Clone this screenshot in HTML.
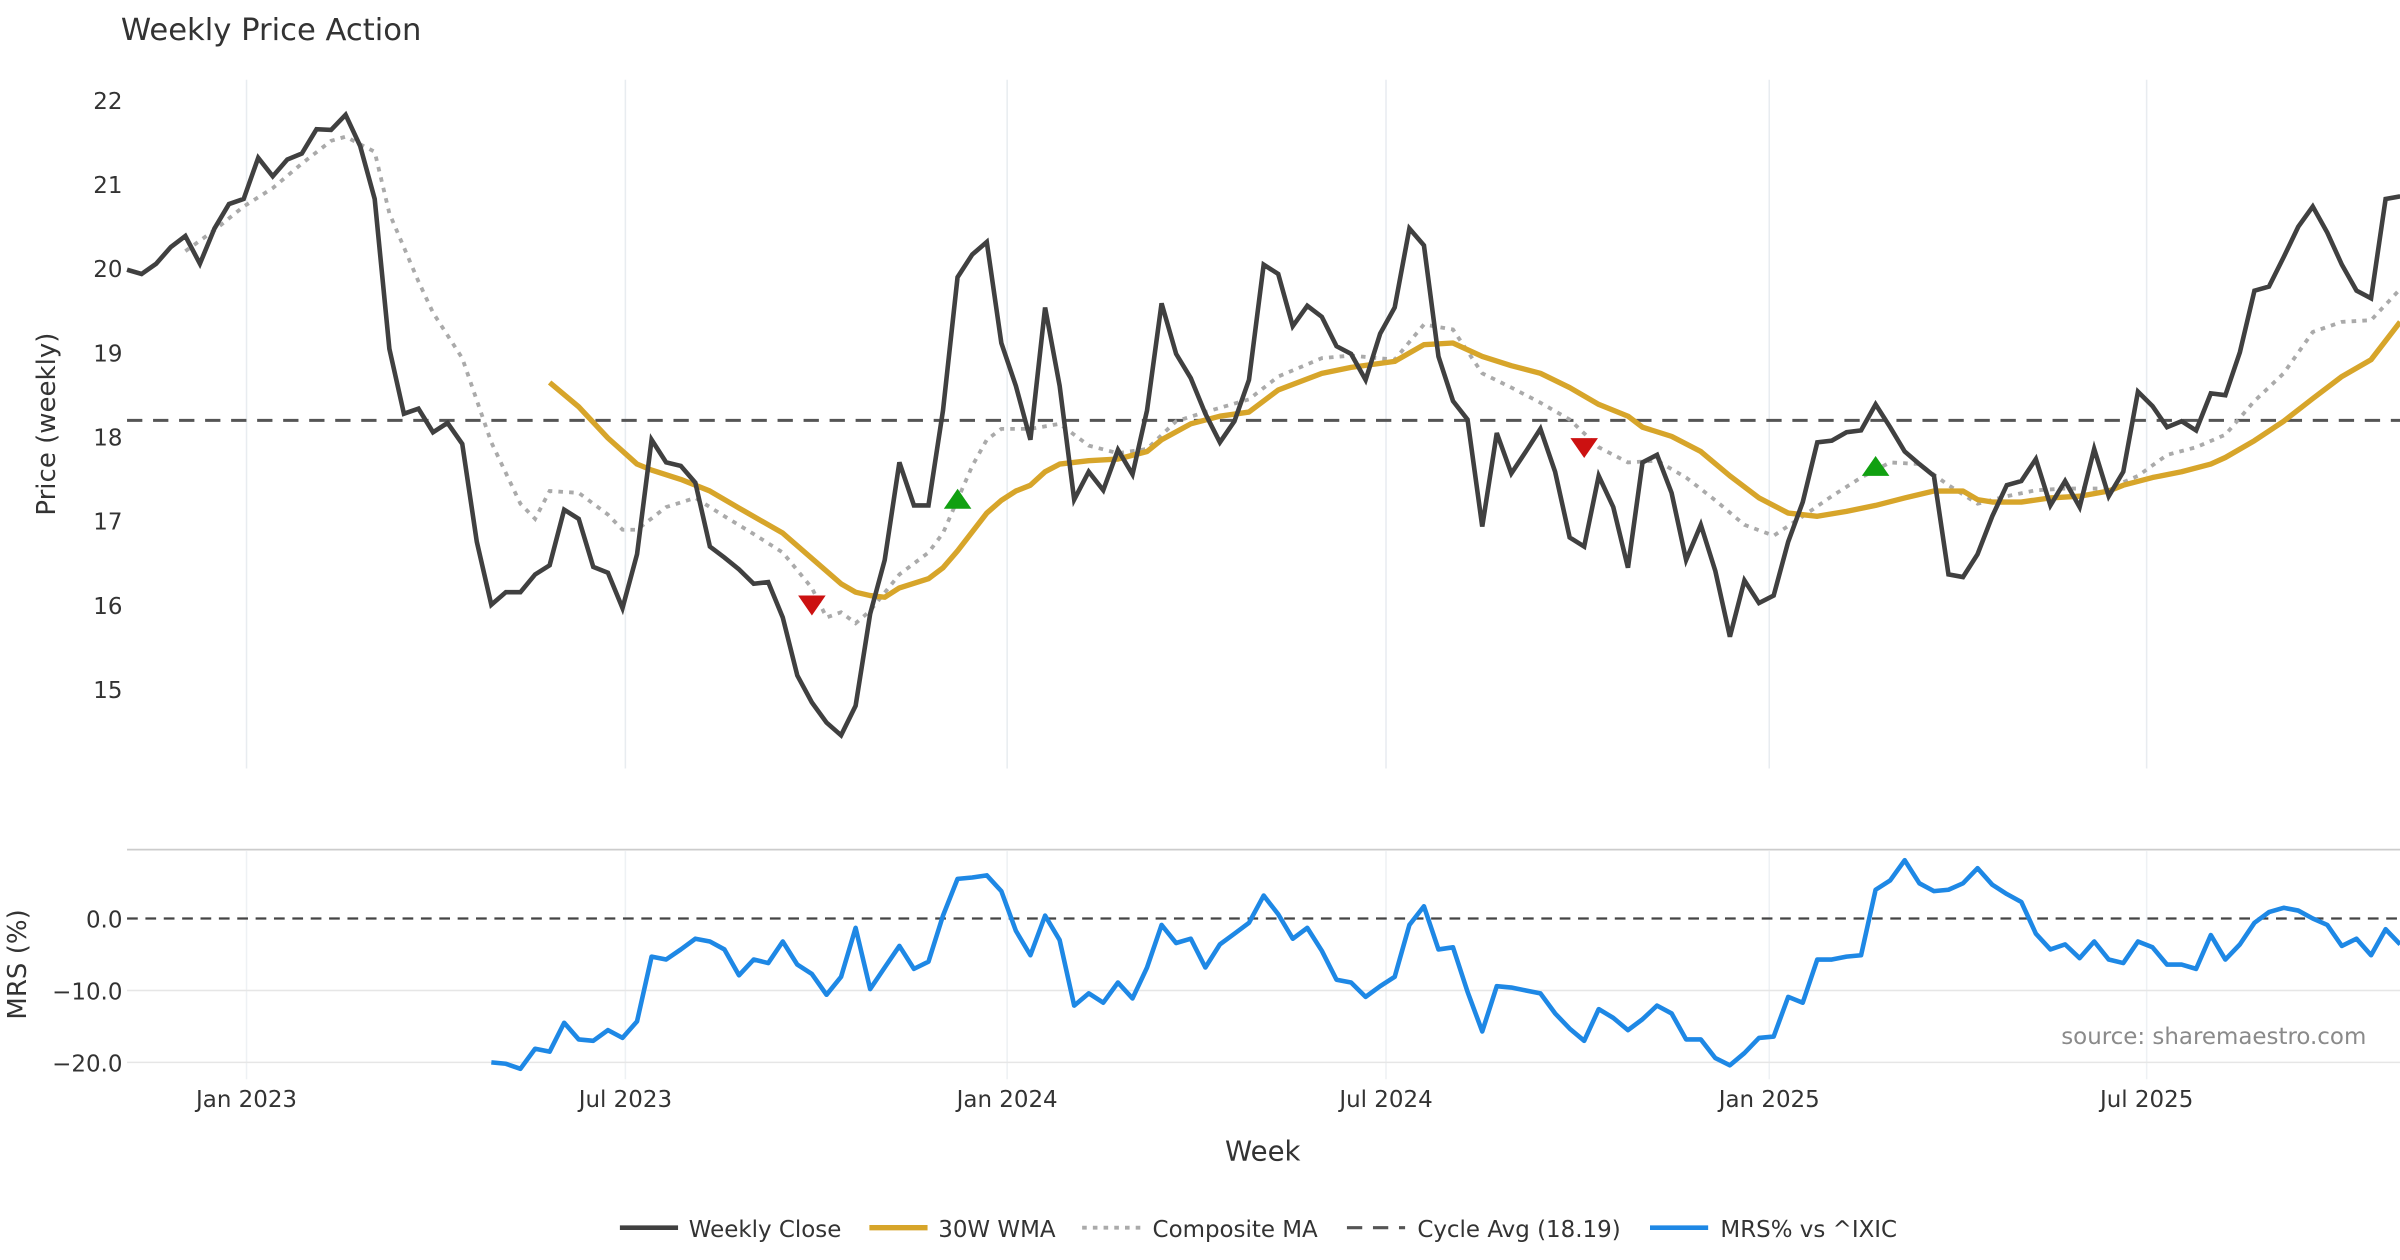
<!DOCTYPE html>
<html><head><meta charset="utf-8"><style>
html,body{margin:0;padding:0;background:#fff;}
svg{display:block;font-family:"DejaVu Sans","Liberation Sans",sans-serif;}
</style></head><body>
<svg id="chart" width="2400" height="1260" viewBox="0 0 1568 823" xmlns="http://www.w3.org/2000/svg">
<text x="79" y="26" font-size="20" fill="#333">Weekly Price Action</text>
<g id="grid"></g><g id="series"></g><g id="axes"></g>
<text transform="translate(36,277) rotate(-90)" text-anchor="middle" font-size="17" fill="#333">Price (weekly)</text>
<text transform="translate(17,630) rotate(-90)" text-anchor="middle" font-size="17" fill="#333">MRS (%)</text>
<text x="825" y="758" text-anchor="middle" font-size="18" fill="#333">Week</text>
<text x="1546" y="682" text-anchor="end" font-size="15" fill="#8a8a8a">source: sharemaestro.com</text>
<g font-size="15" fill="#333">
<line x1="405" y1="802" x2="443" y2="802" stroke="#404040" stroke-width="3"/><text x="450" y="808">Weekly Close</text>
<line x1="568" y1="802" x2="606" y2="802" stroke="#d7a52a" stroke-width="3.5"/><text x="613" y="808">30W WMA</text>
<line x1="707" y1="802" x2="745" y2="802" stroke="#aaa" stroke-width="2.5" stroke-dasharray="3,4"/><text x="753" y="808">Composite MA</text>
<line x1="880" y1="802" x2="918" y2="802" stroke="#555" stroke-width="2" stroke-dasharray="10,7"/><text x="926" y="808">Cycle Avg (18.19)</text>
<line x1="1078" y1="802" x2="1116" y2="802" stroke="#1e88e5" stroke-width="3"/><text x="1124" y="808">MRS% vs ^IXIC</text>
</g>
</svg>
<script>
const closeVals=[19.98,19.93,20.05,20.25,20.38,20.05,20.47,20.76,20.82,21.31,21.09,21.29,21.36,21.65,21.64,21.82,21.45,20.82,19.04,18.27,18.33,18.05,18.16,17.91,16.75,16.0,16.15,16.15,16.36,16.47,17.13,17.02,16.45,16.38,15.96,16.6,17.96,17.69,17.65,17.45,16.69,16.56,16.42,16.25,16.27,15.85,15.16,14.84,14.6,14.45,14.8,15.89,16.53,17.69,17.18,17.18,18.31,19.89,20.16,20.31,19.11,18.6,17.96,19.53,18.6,17.25,17.58,17.36,17.84,17.55,18.31,19.58,18.98,18.69,18.27,17.93,18.18,18.67,20.04,19.93,19.31,19.55,19.42,19.07,18.98,18.67,19.22,19.53,20.47,20.27,18.95,18.42,18.2,16.93,18.04,17.56,17.82,18.09,17.58,16.8,16.69,17.53,17.16,16.44,17.69,17.78,17.33,16.53,16.95,16.4,15.62,16.29,16.02,16.11,16.75,17.22,17.93,17.95,18.05,18.07,18.38,18.11,17.82,17.67,17.53,16.36,16.33,16.6,17.05,17.42,17.47,17.73,17.18,17.47,17.16,17.85,17.29,17.58,18.53,18.36,18.11,18.18,18.07,18.51,18.49,19.0,19.73,19.78,20.13,20.49,20.73,20.42,20.04,19.73,19.64,20.82,20.85];
const wmaWeeks=[29,31,33,35,36,38,40,42,45,47,49,50,51,52,53,55,56,57,59,60,61,62,63,64,66,68,70,71,73,75,77,79,82,84,87,89,91,93,95,97,99,101,103,104,106,108,110,112,114,116,118,120,122,124,126,127,128,130,132,134,136,137,139,141,143,144,146,148,150,152,154,156];
const wmaVals=[18.64,18.35,17.98,17.67,17.6,17.49,17.35,17.15,16.85,16.55,16.25,16.15,16.11,16.09,16.2,16.31,16.44,16.64,17.09,17.24,17.35,17.42,17.58,17.67,17.71,17.73,17.82,17.96,18.15,18.24,18.29,18.55,18.75,18.82,18.89,19.09,19.11,18.95,18.84,18.75,18.58,18.38,18.24,18.11,18.0,17.82,17.53,17.27,17.09,17.05,17.11,17.18,17.27,17.35,17.35,17.25,17.22,17.22,17.27,17.29,17.35,17.42,17.51,17.58,17.67,17.75,17.95,18.18,18.45,18.71,18.91,19.36];
const compWeeks=[4,6,8,10,12,14,15,17,18,20,21,23,25,27,28,29,31,33,34,35,37,39,41,43,45,47,48,49,50,51,53,55,56,58,59,60,62,64,66,68,70,72,74,77,79,82,84,87,89,91,93,95,97,99,101,103,105,107,109,111,113,115,117,119,121,123,125,127,129,131,133,136,138,140,142,144,146,148,150,152,154,156];
const compVals=[20.2,20.45,20.73,20.95,21.24,21.51,21.56,21.38,20.65,19.84,19.47,18.93,17.93,17.2,17.02,17.35,17.33,17.07,16.89,16.89,17.16,17.27,17.05,16.84,16.62,16.2,15.85,15.91,15.78,15.93,16.36,16.62,16.85,17.65,17.96,18.09,18.09,18.15,17.89,17.8,17.85,18.18,18.29,18.44,18.71,18.93,18.96,18.91,19.33,19.27,18.75,18.58,18.4,18.2,17.87,17.69,17.71,17.51,17.24,16.95,16.82,17.05,17.29,17.51,17.69,17.67,17.42,17.2,17.29,17.36,17.38,17.38,17.53,17.78,17.87,18.02,18.42,18.75,19.24,19.36,19.38,19.75];
const cycleAvg=18.19;
const sellWeeks=[47,100], sellVals=[16.0,17.87];
const buyWeeks=[57,120], buyVals=[17.25,17.64];
const mrsStart=25;
const mrsVals=[-20,-20.2,-20.9,-18.1,-18.5,-14.5,-16.8,-17,-15.5,-16.6,-14.3,-5.3,-5.7,-4.3,-2.8,-3.2,-4.3,-7.9,-5.7,-6.2,-3.2,-6.4,-7.7,-10.6,-8.1,-1.3,-9.8,-6.8,-3.8,-7.0,-6.0,0.4,5.5,5.7,6.0,3.8,-1.7,-5.1,0.4,-3.0,-12.1,-10.4,-11.7,-8.9,-11.1,-6.8,-0.9,-3.4,-2.8,-6.8,-3.6,-2.1,-0.6,3.2,0.6,-2.8,-1.3,-4.5,-8.5,-8.9,-10.9,-9.4,-8.1,-0.9,1.7,-4.3,-4.0,-10.2,-15.7,-9.4,-9.6,-10,-10.4,-13.2,-15.3,-17,-12.6,-13.8,-15.5,-14,-12.1,-13.2,-16.8,-16.8,-19.4,-20.4,-18.7,-16.6,-16.4,-10.9,-11.7,-5.7,-5.7,-5.3,-5.1,4.0,5.3,8.1,4.9,3.8,4.0,4.9,7.0,4.7,3.4,2.3,-2.1,-4.3,-3.6,-5.5,-3.2,-5.7,-6.2,-3.2,-4.0,-6.4,-6.4,-7.0,-2.3,-5.7,-3.6,-0.6,0.9,1.5,1.1,0,-0.9,-3.8,-2.8,-5.1,-1.5,-3.6];
const priceTicks=[15,16,17,18,19,20,21,22];
const mrsTicks=[0,-10,-20];
const mrsTickLabels=["0.0","\u221210.0","\u221220.0"];
const xTickWeeks=[8.2,34.2,60.4,86.4,112.7,138.6];
const xTickLabels=["Jan 2023","Jul 2023","Jan 2024","Jul 2024","Jan 2025","Jul 2025"];

const NS="http://www.w3.org/2000/svg";
const xS=w=>83+w*9.52;
const yS=v=>65+(22-v)*55;
const mS=v=>600-v*4.7;
function mk(tag,attrs,parent){const e=document.createElementNS(NS,tag);for(const k in attrs)e.setAttribute(k,attrs[k]);parent.appendChild(e);return e;}
const gridG=document.getElementById('grid'),serG=document.getElementById('series'),axG=document.getElementById('axes');
xTickWeeks.forEach((w,i)=>{
  let g=mk('line',{x1:xS(w),x2:xS(w),y1:52,y2:502,stroke:'#e8ecf0','stroke-width':1},gridG);
  
  
  let g2=mk('line',{x1:xS(w),x2:xS(w),y1:556,y2:705,stroke:'#eef1f4','stroke-width':1},gridG);
  
  
  let t=mk('text',{x:xS(w),y:723,'text-anchor':'middle','font-size':15,fill:'#333'},axG);t.textContent=xTickLabels[i];
  
  
});
priceTicks.forEach(v=>{
  let t=mk('text',{x:80,y:yS(v)+6,'text-anchor':'end','font-size':15,fill:'#333'},axG);t.textContent=v;
  
  
});
mrsTicks.forEach((v,i)=>{
  let g=mk('line',{x1:83,x2:1568,y1:mS(v),y2:mS(v),stroke:v===0?'#444':'#e6e6e6','stroke-width':v===0?1.5:1,'stroke-dasharray':v===0?'7,5':'none'},gridG);
  
  
  let t=mk('text',{x:80,y:mS(v)+6,'text-anchor':'end','font-size':15,fill:'#333'},axG);t.textContent=mrsTickLabels[i];
  
  
});
const panelTop=mk('line',{x1:83,x2:1568,y1:555,y2:555,stroke:'#ccc','stroke-width':1.2},gridG);


function pathD(ws,vs,fy){return ws.map((w,i)=>(i?'L':'M')+xS(w).toFixed(1)+','+fy(vs[i]).toFixed(1)).join('');}
const cyc=mk('line',{x1:83,x2:1568,y1:yS(cycleAvg),y2:yS(cycleAvg),stroke:'#555','stroke-width':2,'stroke-dasharray':'10,7'},serG);


const compLine=mk('path',{d:pathD(compWeeks,compVals,yS),fill:'none',stroke:'#aaa','stroke-width':2.5,'stroke-dasharray':'3,4'},serG);


const wmaLine=mk('path',{d:pathD(wmaWeeks,wmaVals,yS),fill:'none',stroke:'#d7a52a','stroke-width':3.5,'stroke-linejoin':'round'},serG);


const closeLine=mk('path',{d:pathD(closeVals.map((v,i)=>i),closeVals,yS),fill:'none',stroke:'#404040','stroke-width':3},serG);


sellWeeks.forEach((w,i)=>{const x=xS(w),y=yS(sellVals[i]);
  let p=mk('path',{d:`M${x-9},${y-6}L${x+9},${y-6}L${x},${y+7}Z`,fill:'#cc1111'},serG);
  
  });
buyWeeks.forEach((w,i)=>{const x=xS(w),y=yS(buyVals[i]);
  let p=mk('path',{d:`M${x-9},${y+6}L${x+9},${y+6}L${x},${y-7}Z`,fill:'#11a011'},serG);
  
  });
const mrsLine=mk('path',{d:pathD(mrsVals.map((v,i)=>mrsStart+i),mrsVals,mS),fill:'none',stroke:'#1e88e5','stroke-width':3,'stroke-linejoin':'round'},serG);


</script>
</body></html>
